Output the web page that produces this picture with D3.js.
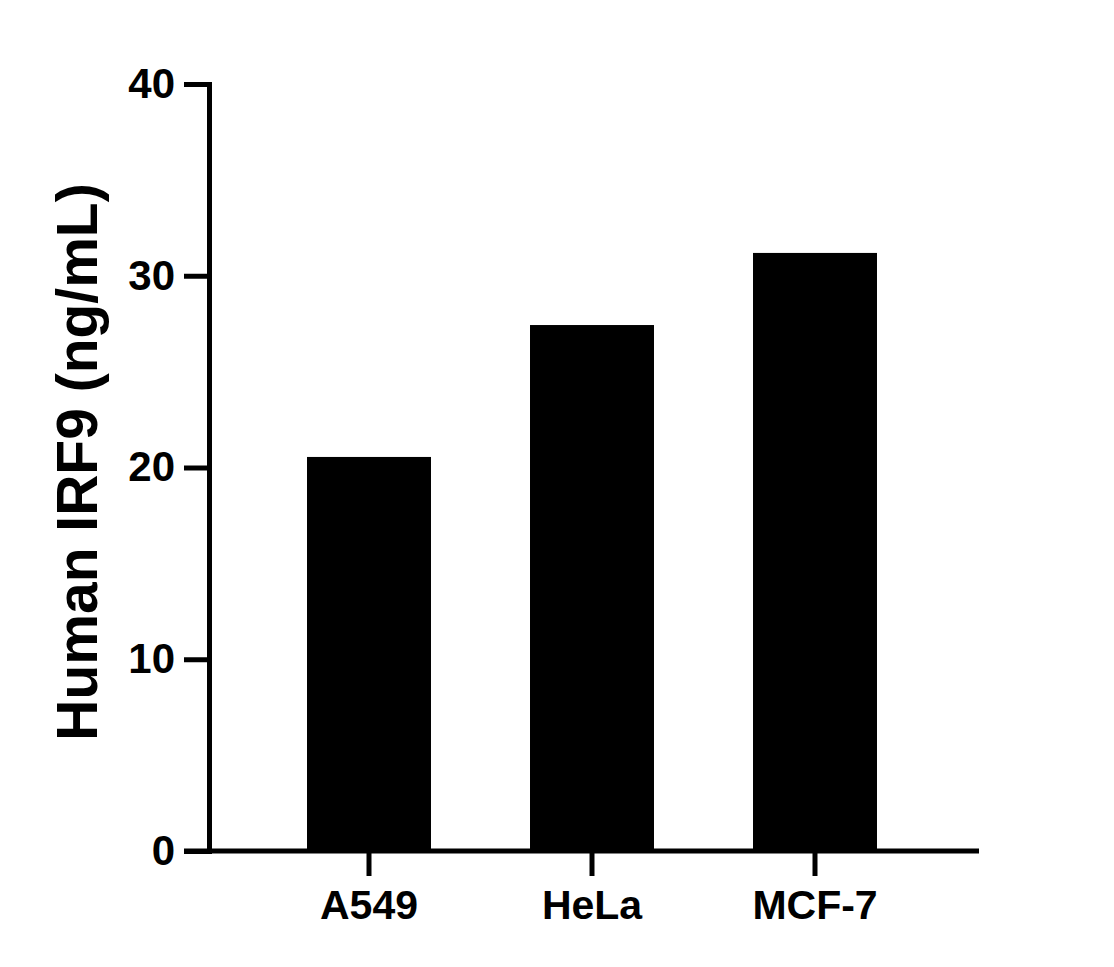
<!DOCTYPE html>
<html>
<head>
<meta charset="utf-8">
<script src="https://cdn.jsdelivr.net/npm/d3@7"></script>
<style>
  body { margin: 0; background: #fff; }
  text { font-family: 'Liberation Sans', Arial, sans-serif; font-weight: bold; }
</style>
</head>
<body>
<script>
// data
const cellLines = ['A549', 'HeLa', 'MCF-7']
const irf9 = [20.55, 27.43, 31.19]
const yTicks = [0, 10, 20, 30, 40]
const yTitle = 'Human IRF9 (ng/mL)'

const w = 1114
const h = 967

const plot = { left: 209, right: 979, top: 84, bottom: 851 }
const tickLen = 25

const svg = d3.select('body')
  .append('svg')
  .attr('width', w)
  .attr('height', h)

// scales
const xScale = d3.scaleBand()
  .domain(cellLines)
  .range([257.5, 926.5])
  .paddingInner(0.444)
  .paddingOuter(0.222)

const yScale = d3.scaleLinear()
  .domain([0, 40])
  .range([plot.bottom, plot.top])

// bars
svg.append('g')
  .selectAll('rect')
  .data(cellLines)
  .enter()
  .append('rect')
  .attr('x', d => xScale(d))
  .attr('y', (d, i) => yScale(irf9[i]))
  .attr('width', xScale.bandwidth())
  .attr('height', (d, i) => yScale(0) - yScale(irf9[i]))
  .style('fill', '#000')

// y axis
const yAxis = d3.axisLeft(yScale)
  .tickValues(yTicks)
  .tickSize(tickLen)
  .tickSizeOuter(0)
  .tickPadding(9)

const yG = svg.append('g')
  .attr('transform', `translate(${plot.left},0)`)
  .call(yAxis)

yG.select('.domain')
  .style('stroke', '#000')
  .style('stroke-width', 5)
  .style('stroke-linecap', 'square')
yG.selectAll('.tick line')
  .style('stroke', '#000')
  .style('stroke-width', 5)
yG.selectAll('.tick text')
  .style('font-size', '42px')
  .style('fill', '#000')

// x axis
const xAxis = d3.axisBottom(xScale)
  .tickSize(tickLen)
  .tickSizeOuter(0)
  .tickPadding(14)

const xG = svg.append('g')
  .attr('transform', `translate(0,${plot.bottom})`)
  .call(xAxis)

xG.select('.domain').remove()
xG.append('line')
  .attr('x1', plot.left - tickLen)
  .attr('x2', plot.right)
  .attr('y1', 0)
  .attr('y2', 0)
  .style('stroke', '#000')
  .style('stroke-width', 5)
xG.selectAll('.tick line')
  .style('stroke', '#000')
  .style('stroke-width', 5)
xG.selectAll('.tick text')
  .style('font-size', '41px')
  .style('fill', '#000')

// y title
svg.append('text')
  .attr('transform', `translate(97,462) rotate(-90)`)
  .attr('text-anchor', 'middle')
  .style('font-size', '57px')
  .style('fill', '#000')
  .text(yTitle)
</script>
</body>
</html>
